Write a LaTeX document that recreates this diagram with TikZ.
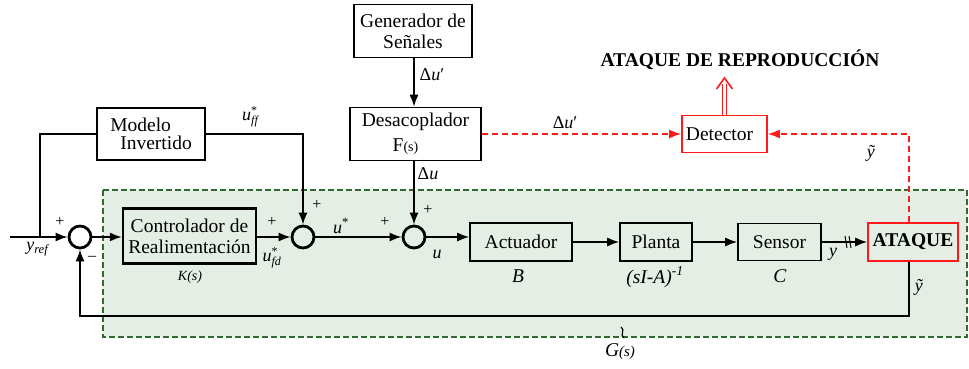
\documentclass[tikz,border=0pt]{standalone}
\usepackage{fontspec}
\setmainfont{Liberation Serif}
\usetikzlibrary{arrows.meta}
\definecolor{gfill}{HTML}{E4EEE4}
\definecolor{gline}{HTML}{2E6B2E}
\definecolor{rd}{HTML}{FF1A1A}
\newcommand{\sbx}[1]{\hbox{\fontsize{12}{12}\selectfont #1}}
\begin{document}
\begin{tikzpicture}[x=1pt,y=-1pt,
  every node/.style={font=\fontsize{19.5}{21}\selectfont},
  blk/.style={draw, line width=1.6pt, inner sep=0pt, align=center},
  rblk/.style={draw=rd, line width=1.6pt, inner sep=0pt, align=center},
  sumc/.style={draw, circle, line width=2.8pt, minimum size=22pt, inner sep=0pt},
  arr/.style={line width=1.6pt, -{Latex[length=12pt,width=9pt]}},
  ln/.style={line width=1.6pt},
  rarr/.style={rd, line width=1.6pt, dashed, dash pattern=on 6pt off 4pt, -{Latex[length=12pt,width=9pt]}},
  lbl/.style={inner sep=0pt, font=\fontsize{18}{20}\selectfont},
  pm/.style={inner sep=0pt, font=\fontsize{16}{18}\selectfont}
]
\useasboundingbox (0,0) rectangle (969,369);
% green region
\draw[gline, fill=gfill, line width=1.2pt, dash pattern=on 6pt off 3pt] (103,190) rectangle (967,337);

% nodes
\node[blk, minimum width=118pt, minimum height=53pt, font=\fontsize{19.5}{21}\selectfont] (gen) at (413,31) {Generador de\\Señales};
\node[blk, minimum width=131pt, minimum height=53pt, font=\fontsize{19.5}{25}\selectfont] (desac) at (415.5,134) {Desacoplador\\\hspace*{-20pt}F{\fontsize{14}{14}\selectfont(s)}};
\node[blk, minimum width=108pt, minimum height=52pt, align=left, font=\fontsize{19.5}{18.5}\selectfont] (modelo) at (151,134) {Modelo\\\hspace*{10pt}Invertido};
\node[blk, line width=2.4pt, minimum width=133pt, minimum height=55pt, font=\fontsize{19.5}{21}\selectfont] (ctrl) at (189.5,236) {Controlador de\\Realimentación};
\node[blk, minimum width=102pt, minimum height=38pt] (act) at (521,242) {Actuador};
\node[blk, minimum width=72pt, minimum height=38pt] (planta) at (656,242) {Planta};
\node[blk, minimum width=83pt, minimum height=37pt] (sensor) at (779.5,242) {Sensor};
\node[rblk, minimum width=90pt, minimum height=38pt, font=\bfseries\fontsize{19.5}{21}\selectfont] (ataque) at (913,242) {ATAQUE};
\node[rblk, fill=white, minimum width=85pt, minimum height=37pt] (det) at (724.5,134) {\hspace*{-10pt}Detector};
\node[inner sep=0pt, font=\bfseries\fontsize{19.5}{21}\selectfont] (title) at (740,60) {ATAQUE DE REPRODUCCIÓN};

\node[sumc] (s1) at (80,237) {};
\node[sumc] (s2) at (303,237) {};
\node[sumc] (s3) at (414,237) {};

% coordinates
\coordinate (yin) at (10,237);
\coordinate (br) at (40,237);
\coordinate (fb) at (909,316);
\coordinate (rt) at (909,134);
\coordinate (tp) at (724.5,78);

% connectors
\draw[arr] (yin) -- (s1.west);
\draw[ln] (br) |- (modelo.west);
\draw[arr] (s1.east) -- (ctrl.west |- s1.east);
\draw[arr] (ctrl.east |- s2.west) -- (s2.west);
\draw[arr] (modelo.east) -| (s2.north);
\draw[arr] (s2.east) -- (s3.west);
\draw[arr] (s3 |- gen.south) -- (s3 |- desac.north);
\draw[arr] (s3 |- desac.south) -- (s3.north);
\draw[arr] (s3.east) -- (act.west |- s3.east);
\draw[arr] (act.east) -- (planta.west);
\draw[arr] (planta.east) -- (sensor.west);
\draw[arr] (sensor.east) -- (ataque.west);
\draw[line width=1pt] (845,236) -- (847,248) (849,236) -- (851,248);
\draw[arr] (ataque.south -| fb) -- (fb) -| (s1.south);
\draw[rarr] (ataque.north -| fb) -- (rt) -- (det.east);
\draw[rarr] (desac.east) -- (det.west);
% double arrow
\draw[rd, line width=1.4pt] ([xshift=-2.2pt]det.north) -- ([xshift=-2.2pt]tp |- 0,84);
\draw[rd, line width=1.4pt] ([xshift=2.2pt]det.north) -- ([xshift=2.2pt]tp |- 0,84);
\draw[rd, line width=1.6pt] ([xshift=-8pt,yshift=-11pt]tp) -- (tp) -- ([xshift=8pt,yshift=-11pt]tp);
% G(s) tick
\draw[line width=1.2pt] (621,327) .. controls (626,330) and (619,335) .. (624,338);

% labels
\node[pm] at (60,222) {+};
\node[pm] at (92,258) {--};
\node[lbl] at (38,249) {\textit{y}\textsubscript{\textit{ref}}};
\node[pm] at (272,222) {+};
\node[lbl] at (272,258) {$\textit{u}^{\sbx{*}}_{\sbx{\textit{fd}}}$};
\node[pm] at (317,205) {+};
\node[lbl] at (251,117) {$\textit{u}^{\sbx{*}}_{\sbx{\textit{ff}}}$};
\node[lbl] at (341,226) {\textit{u}\textsuperscript{*}};
\node[pm] at (385,222) {+};
\node[pm] at (428,210) {+};
\node[lbl] at (437,254) {\textit{u}};
\node[lbl] at (432,75) {Δ\textit{u}′};
\node[lbl] at (428,174) {Δ\textit{u}};
\node[lbl] at (565,123) {Δ\textit{u}′};
\node[lbl] at (871,153) {\textit{ỹ}};
\node[lbl] at (919,287) {\textit{ỹ}};
\node[lbl] at (833,254) {\textit{y}};
\node[inner sep=0pt, font=\fontsize{14}{16}\selectfont] at (190,277) {\textit{K(s)}};
\node[lbl, font=\fontsize{19.5}{21}\selectfont] at (518,276) {\textit{B}};
\node[lbl, font=\fontsize{19.5}{21}\selectfont] at (655,277) {\textit{(sI-A)}\textsuperscript{\textit{-1}}};
\node[lbl, font=\fontsize{19.5}{21}\selectfont] at (780,276) {\textit{C}};
\node[lbl, font=\fontsize{19.5}{21}\selectfont] at (620,352) {\textit{G}{\fontsize{15}{16}\selectfont\textit{(s)}}};
\end{tikzpicture}
\end{document}
